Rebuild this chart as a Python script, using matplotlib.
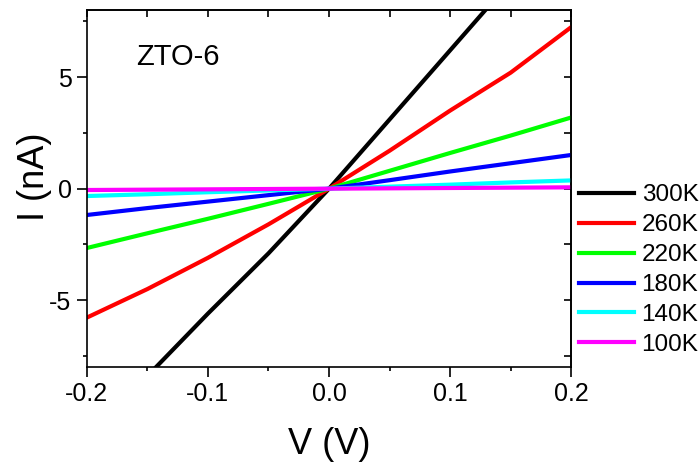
import numpy as np
import matplotlib.pyplot as plt

plt.rcParams['font.family'] = ['Liberation Sans', 'DejaVu Sans']

# bias voltage (V)
V = [-0.2, -0.15, -0.1, -0.05, 0.0, 0.05, 0.1, 0.15, 0.2]

# current (nA) at each temperature
I_300K = [-11.2, -8.4, -5.6, -2.9, 0.0, 3.1, 6.2, 9.3, 12.4]
I_260K = [-5.78, -4.5, -3.1, -1.6, 0.0, 1.7, 3.5, 5.2, 7.24]
I_220K = [-2.66, -2.0, -1.35, -0.68, 0.0, 0.8, 1.6, 2.38, 3.19]
I_180K = [-1.18, -0.87, -0.58, -0.29, 0.0, 0.38, 0.77, 1.14, 1.51]
I_140K = [-0.33, -0.25, -0.16, -0.08, 0.0, 0.09, 0.18, 0.28, 0.37]
I_100K = [-0.06, -0.045, -0.03, -0.015, 0.0, 0.015, 0.03, 0.045, 0.06]

labels = ["300K", "260K", "220K", "180K", "140K", "100K"]
colors = ["#000000", "#ff0000", "#00ff00", "#0000ff", "#00ffff", "#ff00ff"]


fig = plt.figure(figsize=[7, 4.63], dpi=100)
ax = fig.add_axes([0.124, 0.207, 0.692, 0.771])

series = [I_300K, I_260K, I_220K, I_180K, I_140K, I_100K]
for I, lab, c in zip(series, labels, colors):
	ax.plot(V, I, color=c, lw=3, label=lab)

ax.set_xlim(-0.2, 0.2)
ax.set_ylim(-8, 8)
ax.set_xticks([-0.2, -0.1, 0.0, 0.1, 0.2])
ax.set_xticklabels(["-0.2", "-0.1", "0.0", "0.1", "0.2"])
ax.set_xticks([-0.15, -0.05, 0.05, 0.15], minor=True)
ax.set_yticks([-5, 0, 5])
ax.set_yticklabels(["-5", "0", "5"])
ax.set_yticks([-7.5, -2.5, 2.5, 7.5], minor=True)

ax.tick_params(which='major', direction='out', length=7, width=1.2, labelsize=18, pad=4)
ax.tick_params(which='minor', direction='out', length=3, width=1.2)
for s in ax.spines.values():
	s.set_linewidth(1.2)

# mirrored ticks on top and right, pointing inward
top = ax.secondary_xaxis('top')
top.set_xticks([-0.2, -0.1, 0.0, 0.1, 0.2])
top.set_xticks([-0.15, -0.05, 0.05, 0.15], minor=True)
top.tick_params(which='both', direction='in', length=5, width=1.2, labeltop=False)
right = ax.secondary_yaxis('right')
right.set_yticks([-5, 0, 5])
right.set_yticks([-7.5, -2.5, 2.5, 7.5], minor=True)
right.tick_params(which='both', direction='in', length=5, width=1.2, labelright=False)
for sec in (top, right):
	for s in sec.spines.values():
		s.set_linewidth(1.2)

ax.set_xlabel("V (V)", fontsize=26)
ax.set_ylabel("I (nA)", fontsize=26)
ax.xaxis.set_label_coords(0.5, -0.168)
ax.yaxis.set_label_coords(-0.072, 0.532)

ax.text(-0.159, 5.9, "ZTO-6", fontsize=21, ha='left', va='center')

fig.legend(loc='upper left', bbox_to_anchor=(0.827, 0.602), frameon=False,
	fontsize=17.5, handlelength=2.26, handletextpad=0.32, labelspacing=0.325,
	borderpad=0, borderaxespad=0)

fig.savefig("out.png", dpi=100)
